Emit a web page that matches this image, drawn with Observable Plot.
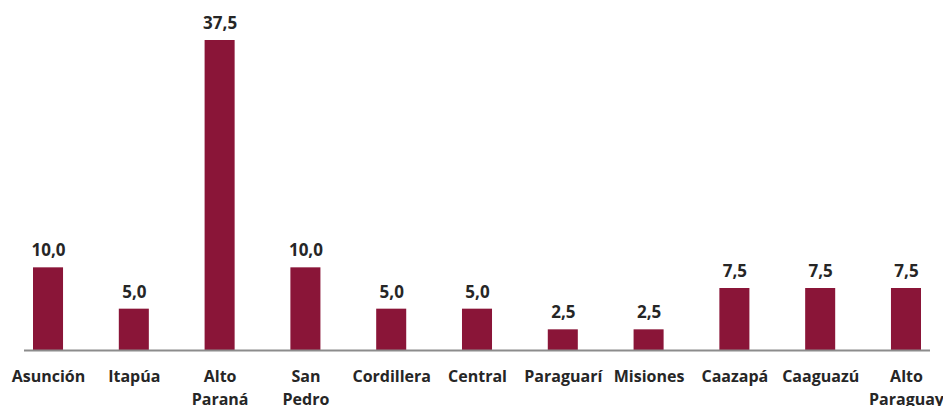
<!DOCTYPE html>
<html>
<head>
<meta charset="utf-8">
<script src="https://cdn.jsdelivr.net/npm/d3@7"></script>
<script src="https://cdn.jsdelivr.net/npm/@observablehq/plot@0.6"></script>
<style>
  html, body { margin: 0; padding: 0; background: #fff; }
  #chart svg { display: block; }
</style>
</head>
<body>
<div id="chart"></div>
<script>
const categories = ["Asunción", "Itapúa", "Alto Paraná", "San Pedro", "Cordillera", "Central", "Paraguarí", "Misiones", "Caazapá", "Caaguazú", "Alto Paraguay"];
const values = [10.0, 5.0, 37.5, 10.0, 5.0, 5.0, 2.5, 2.5, 7.5, 7.5, 7.5];
const tickLabels = ["Asunción", "Itapúa", "Alto\nParaná", "San\nPedro", "Cordillera", "Central", "Paraguarí", "Misiones", "Caazapá", "Caaguazú", "Alto\nParaguay"];

const data = categories.map((c, i) => ({category: c, value: values[i], label: values[i].toFixed(1).replace(".", ",")}));
const tickMap = new Map(categories.map((c, i) => [c, tickLabels[i]]));

const chart = Plot.plot({
  width: 943,
  height: 406,
  marginLeft: 24,
  marginRight: 13,
  marginTop: 40,
  marginBottom: 56,
  style: {fontFamily: "'Open Sans', sans-serif", fontSize: "16px", color: "#262626", background: "#fff"},
  x: {domain: categories, round: false, paddingInner: 0.65, paddingOuter: 0.105, label: null, axis: null},
  y: {domain: [0, 37.5], axis: null},
  marks: [
    Plot.barY(data, {x: "category", y: "value", fill: "#8A1538"}),
    Plot.ruleY([0], {stroke: "#8c8c8c", strokeWidth: 2}),
    Plot.text(data, {x: "category", y: "value", text: "label", dy: -17, fontWeight: "bold", fontSize: 17, fill: "#262626"}),
    Plot.axisX({tickSize: 0, tickPadding: 15, tickFormat: d => tickMap.get(d), fontWeight: "bold", fontSize: 16, fill: "#262626", lineHeight: 1.45, label: null})
  ]
});
document.getElementById("chart").appendChild(chart);
</script>
</body>
</html>
